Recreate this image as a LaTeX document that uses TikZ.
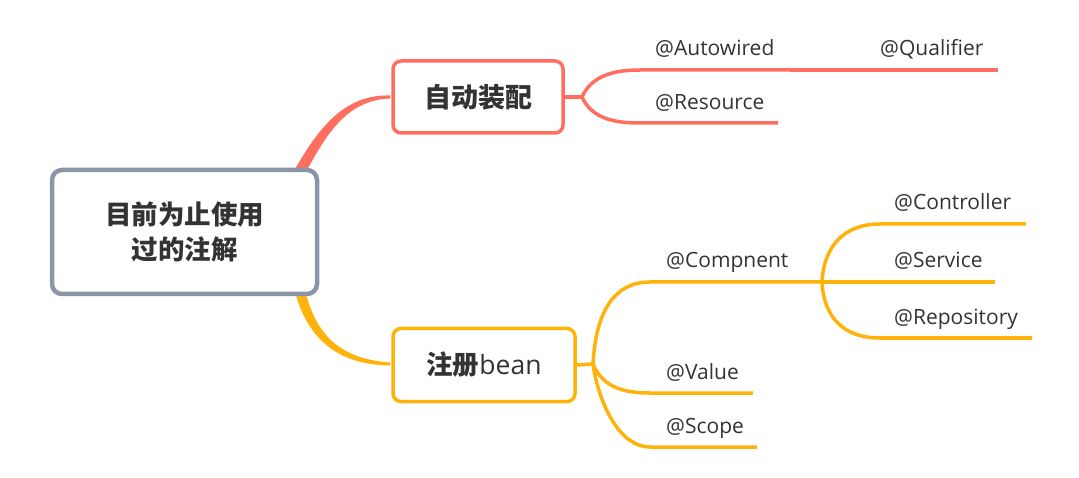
\documentclass[tikz,border=0pt]{standalone}
\usepackage{fontspec}
\usetikzlibrary{calc,backgrounds}
\setmainfont{Open Sans}
\newfontfamily\cjk{Noto Sans CJK SC}
\definecolor{cred}{HTML}{FF6E5E}
\definecolor{cyel}{HTML}{FFB30A}
\definecolor{cgray}{HTML}{8A95A8}
\definecolor{ctext}{HTML}{333333}
\begin{document}
\begin{tikzpicture}[x=1pt,y=-1pt,
  topic/.style={draw, rounded corners=8pt, fill=white, text=ctext, align=center, inner sep=0pt},
  lbl/.style={anchor=base west, text=ctext, inner sep=0pt, font=\fontsize{21}{25}\selectfont},
  redline/.style={draw=cred, line width=3.5pt},
  yelline/.style={draw=cyel, line width=3.5pt}]
\useasboundingbox (0,0) rectangle (1079,478);
% topic nodes
\node[topic, draw=cgray, line width=4.5pt, rounded corners=10pt, minimum width=265pt, minimum height=124pt,
  font=\fontsize{26.5}{35}\selectfont\cjk\bfseries] (root) at (184.5,232) {目前为止使用\\过的注解};
\node[topic, draw=cred, line width=3.5pt, minimum width=170pt, minimum height=72pt,
  font=\fontsize{27}{30}\selectfont\cjk\bfseries] (auto) at (478,97) {自动装配};
\node[topic, draw=cyel, line width=3.5pt, minimum width=182pt, minimum height=73pt,
  font=\fontsize{26.5}{30}\selectfont] (reg) at (484,365) {{\cjk\bfseries 注册}bean};
% main branches (tapered), behind the nodes
\begin{scope}[on background layer]
\fill[cred] ($(root.north east)+(-24.7,2.2)$) .. controls (318,129) and (344,94) .. ($(auto.west)+(-1,-1.5)$)
  -- ($(auto.west)+(-1,1.5)$) .. controls (346,100) and (326,135) .. ($(root.north east)+(-15.3,7.8)$) -- cycle;
\fill[cyel] ($(root.south east)+(-23.8,-2.6)$) .. controls (308,338) and (337,365) .. ($(reg.west)+(-1,0.5)$)
  -- ($(reg.west)+(-1,-2.5)$) .. controls (339,359) and (316,334) .. ($(root.south east)+(-14.2,-5.4)$) -- cycle;
\end{scope}
% labels
\node[lbl] (aw) at (655,56) {@Autowired};
\node[lbl] (qu) at (880,56) {@Qualifier};
\node[lbl] (rs) at (655,110) {@Resource};
\node[lbl] (cp) at (666,268) {@Compnent};
\node[lbl] (ct) at (894,210) {@Controller};
\node[lbl] (sv) at (894,268) {@Service};
\node[lbl] (rp) at (894,324) {@Repository};
\node[lbl] (vl) at (666,379) {@Value};
\node[lbl] (sc) at (666,433) {@Scope};
% coordinates of underlines
\coordinate (f1) at (582,97);
\coordinate (aws) at (640,70); \coordinate (awe) at (790,70);
\coordinate (que) at (998,70);
\coordinate (rss) at (640,123); \coordinate (rse) at (778,123);
\coordinate (f2) at (593,364);
\coordinate (cps) at (650,282); \coordinate (cpe) at (822,282);
\coordinate (cts) at (880,224); \coordinate (cte) at (1026,224);
\coordinate (sve) at (995,282);
\coordinate (rps) at (880,338); \coordinate (rpe) at (1032,338);
\coordinate (vls) at (650,393); \coordinate (vle) at (753,393);
\coordinate (scs) at (650,447); \coordinate (sce) at (757,447);
% red connectors
\draw[redline] (auto.east) -- (f1);
\draw[redline] (f1) .. controls (592,75) and (615,70) .. (aws) -- (awe);
\draw[redline] (awe) -- (que);
\draw[redline] (f1) .. controls (592,119) and (615,123) .. (rss) -- (rse);
% yellow connectors
\draw[yelline] (reg.east) -- (f2);
\draw[yelline] (f2) .. controls (596,310) and (615,282) .. (cps) -- (cpe);
\draw[yelline] (f2) .. controls (603,388) and (625,393) .. (vls) -- (vle);
\draw[yelline] (f2) .. controls (598,400) and (618,447) .. (scs) -- (sce);
\draw[yelline] (cpe) .. controls (824,245) and (845,224) .. (cts) -- (cte);
\draw[yelline] (cpe) -- (sve);
\draw[yelline] (cpe) .. controls (824,319) and (845,338) .. (rps) -- (rpe);
\end{tikzpicture}
\end{document}
